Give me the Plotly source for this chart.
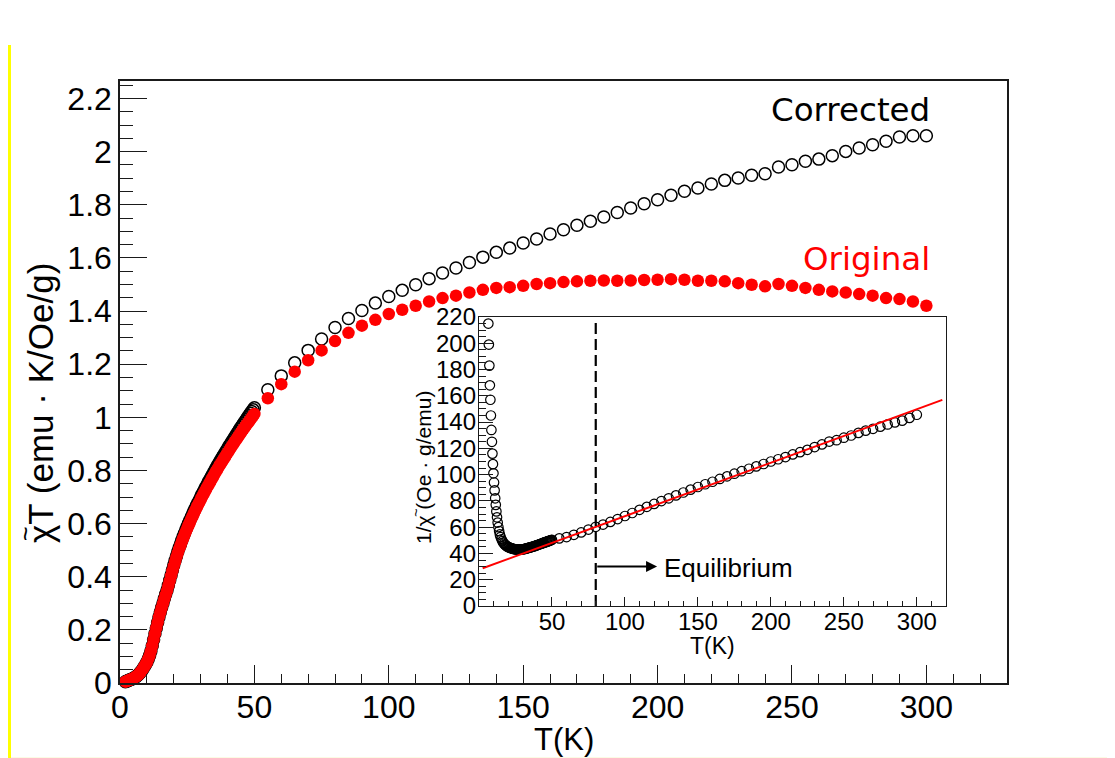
import plotly.graph_objects as go

# ---------------- main panel data ----------------
T_low = [2.0, 2.5, 3.0, 3.5, 4.0, 4.5, 5.0, 5.5, 6.0, 6.5, 7.0, 7.5, 8.0, 8.5, 9.0, 9.5,
         10.0, 10.5, 11.0, 11.5, 12.0, 12.5, 13.0, 13.5, 14.0, 14.5,
         15.0, 15.5, 16.0, 16.5, 17.0, 17.5, 18.0, 18.5, 19.0, 19.5, 20.0, 20.5, 21.0, 21.5,
         22.0, 22.5, 23.0, 23.5, 24.0, 24.5, 25.0, 25.5, 26.0, 26.5, 27.0, 27.5, 28.0, 28.5,
         29.0, 29.5, 30.0, 30.5, 31.0, 31.5, 32.0, 32.5, 33.0, 33.5, 34.0, 34.5, 35.0, 35.5,
         36.0, 36.5, 37.0, 37.5, 38.0, 38.5, 39.0, 39.5, 40.0, 40.5, 41.0, 41.5, 42.0, 42.5,
         43.0, 43.5, 44.0, 44.5, 45.0, 45.5, 46.0, 46.5, 47.0, 47.5, 48.0, 48.5, 49.0, 49.5, 50.0]

chiT_orig_low = [0.005, 0.007, 0.009, 0.011, 0.013, 0.015, 0.018, 0.021, 0.024, 0.028, 0.033, 0.039,
                 0.045, 0.053, 0.061, 0.069, 0.078, 0.090, 0.103, 0.120, 0.140, 0.163, 0.185, 0.207,
                 0.228, 0.248,
                 0.266, 0.283, 0.300, 0.316, 0.332, 0.348, 0.366, 0.384, 0.403, 0.422, 0.440, 0.457,
                 0.474, 0.489, 0.504, 0.518, 0.532, 0.545, 0.558, 0.570, 0.582, 0.594, 0.605, 0.617,
                 0.628, 0.639, 0.650, 0.660, 0.670, 0.680, 0.690, 0.700, 0.710, 0.719, 0.729, 0.738,
                 0.747, 0.756, 0.765, 0.774, 0.783, 0.792, 0.801, 0.809, 0.818, 0.826, 0.834, 0.842,
                 0.850, 0.858, 0.866, 0.874, 0.882, 0.890, 0.898, 0.905, 0.913, 0.920, 0.928, 0.935,
                 0.943, 0.950, 0.957, 0.964, 0.971, 0.978, 0.985, 0.992, 0.999, 1.006, 1.013]

chiT_corr_low = [0.005, 0.007, 0.009, 0.011, 0.013, 0.015, 0.018, 0.021, 0.024, 0.028, 0.033, 0.039,
                 0.045, 0.053, 0.061, 0.069, 0.078, 0.090, 0.103, 0.120, 0.140, 0.163, 0.185, 0.207,
                 0.228, 0.248,
                 0.267, 0.284, 0.301, 0.318, 0.334, 0.350, 0.368, 0.387, 0.406, 0.425, 0.444, 0.461,
                 0.478, 0.494, 0.509, 0.523, 0.537, 0.551, 0.564, 0.577, 0.589, 0.601, 0.613, 0.625,
                 0.636, 0.647, 0.658, 0.669, 0.679, 0.689, 0.700, 0.710, 0.720, 0.730, 0.740, 0.749,
                 0.759, 0.768, 0.777, 0.786, 0.796, 0.805, 0.814, 0.823, 0.832, 0.840, 0.849, 0.857,
                 0.866, 0.874, 0.882, 0.891, 0.899, 0.907, 0.915, 0.923, 0.931, 0.939, 0.947, 0.955,
                 0.963, 0.970, 0.978, 0.985, 0.993, 1.000, 1.008, 1.015, 1.022, 1.029, 1.036]

T_high = [55, 60, 65, 70, 75, 80, 85, 90, 95, 100, 105, 110, 115, 120, 125, 130, 135, 140, 145, 150,
          155, 160, 165, 170, 175, 180, 185, 190, 195, 200, 205, 210, 215, 220, 225, 230, 235, 240,
          245, 250, 255, 260, 265, 270, 275, 280, 285, 290, 295, 300]

chiT_corr_high = [1.104, 1.156, 1.205, 1.252, 1.295, 1.338, 1.372, 1.402, 1.430, 1.455, 1.478, 1.499,
                  1.522, 1.543, 1.562, 1.583, 1.603, 1.621, 1.637, 1.656, 1.671, 1.690, 1.706, 1.723,
                  1.738, 1.754, 1.771, 1.788, 1.804, 1.819, 1.836, 1.851, 1.863, 1.878, 1.892, 1.901,
                  1.911, 1.917, 1.942, 1.951, 1.964, 1.972, 1.985, 2.001, 2.014, 2.026, 2.039, 2.055,
                  2.060, 2.060]

chiT_orig_high = [1.072, 1.125, 1.172, 1.215, 1.252, 1.287, 1.318, 1.345, 1.367, 1.389, 1.405, 1.420,
                  1.436, 1.449, 1.458, 1.470, 1.480, 1.487, 1.490, 1.495, 1.502, 1.505, 1.509, 1.512,
                  1.514, 1.515, 1.514, 1.515, 1.517, 1.518, 1.520, 1.518, 1.514, 1.514, 1.512, 1.505,
                  1.499, 1.493, 1.502, 1.495, 1.487, 1.480, 1.474, 1.470, 1.464, 1.458, 1.449, 1.445,
                  1.436, 1.420]

# ---------------- inset data ----------------
inv_T = [6.4, 6.75, 7.1, 7.45, 7.8, 8.15, 8.5, 8.85, 9.2, 9.55, 9.9, 10.3, 10.7, 11.1, 11.5, 11.9,
         12.35, 12.8, 13.3, 13.8, 14.3, 14.8, 15.4, 16.0, 16.6, 17.2, 17.8, 18.4, 19.0, 19.6, 20.2,
         20.8, 21.4, 22.0, 22.5, 23.0, 23.5, 24.0, 24.5, 25.0, 25.5, 26.0, 26.5, 27.0, 27.5, 28.0,
         28.5, 29.0, 29.5, 30.0, 30.5, 31.0, 31.5, 32.0, 32.5, 33.0, 33.5, 34.0, 34.5, 35.0, 35.5,
         36.0, 36.5, 37.0, 37.5, 38.0, 38.5, 39.0, 39.5, 40.0, 40.5, 41.0, 41.5, 42.0, 42.5, 43.0,
         43.5, 44.0, 44.5, 45.0, 45.5, 46.0, 46.5, 47.0, 47.5, 48.0, 48.5, 49.0, 49.5, 50.0,
         55, 60, 65, 70, 75, 80, 85, 90, 95, 100, 105, 110, 115, 120, 125, 130, 135, 140, 145, 150,
         155, 160, 165, 170, 175, 180, 185, 190, 195, 200, 205, 210, 215, 220, 225, 230, 235, 240,
         245, 250, 255, 260, 265, 270, 275, 280, 285, 290, 295, 300]

inv_chi = [215, 199, 183, 168, 157, 145, 134, 125, 116, 108, 101, 94, 88, 82, 77, 72,
           67.5, 63.5, 60, 57, 54.5, 52.5, 50.8, 49.4, 48.3, 47.4, 46.7, 46.1, 45.6, 45.2, 44.8,
           44.5, 44.2, 44.0, 43.8, 43.6, 43.5, 43.4, 43.3, 43.2, 43.1, 43.1, 43.0, 43.0, 43.0, 43.0,
           43.0, 43.1, 43.1, 43.2, 43.3, 43.4, 43.5, 43.7, 43.8, 44.0, 44.1, 44.3, 44.4, 44.6, 44.8,
           44.9, 45.1, 45.3, 45.5, 45.6, 45.8, 46.0, 46.2, 46.4, 46.6, 46.8, 47.0, 47.2, 47.4, 47.6,
           47.8, 48.0, 48.2, 48.4, 48.6, 48.8, 49.0, 49.2, 49.4, 49.6, 49.8, 50.0, 50.2, 50.4,
           51.5, 52.5, 54.2, 56.0, 58.2, 60.3, 62.0, 64.0, 66.2, 68.5, 70.8, 73.2, 75.5, 77.7, 79.9,
           82.0, 84.2, 86.4, 88.6, 90.6, 92.7, 94.6, 96.7, 98.7, 100.7, 102.6, 104.5, 106.3, 108.1,
           110.0, 111.7, 113.4, 115.4, 117.1, 118.9, 121.0, 123.0, 125.2, 126.2, 128.1, 129.8, 131.8,
           133.5, 134.9, 136.5, 138.2, 139.8, 141.1, 143.2, 145.6]

fit_T = [2.5, 317.5]
fit_inv = [28.7, 156.9]
T_equilibrium = 80
arrow_T = [80, 122]
arrow_y = 30

main_xticks = [0, 50, 100, 150, 200, 250, 300]
inset_xticks = [50, 100, 150, 200, 250, 300]

assert len(T_low) == len(chiT_orig_low) == len(chiT_corr_low)
assert len(T_high) == len(chiT_corr_high) == len(chiT_orig_high)
assert len(inv_T) == len(inv_chi)

T_main = T_low + T_high
corr_all = chiT_corr_low + chiT_corr_high
orig_all = chiT_orig_low + chiT_orig_high

AX = "#1a1a1a"
HELV = "Liberation Sans, Arial, Helvetica, sans-serif"
DEJA = "DejaVu Sans, sans-serif"

# window geometry (the page body adds an 8 px offset to the figure)
WIN_W, WIN_H, OFF = 1115, 758, 8
L, R, TOP, BOT = 120, 1007, 81, 683   # plot area in window pixels


def px_x(p):
    return (p - L) / float(R - L)


def px_y(p):
    return (BOT - p) / float(BOT - TOP)


fig = go.Figure()
fig.add_trace(go.Scatter(x=T_main, y=corr_all, mode="markers", cliponaxis=False,
                         marker=dict(symbol="circle-open", size=12, color="black",
                                     line=dict(width=1.5, color="black")),
                         name="Corrected"))
fig.add_trace(go.Scatter(x=T_main, y=orig_all, mode="markers", cliponaxis=False,
                         marker=dict(symbol="circle", size=12.5, color="#ff0000",
                                     line=dict(width=0)),
                         name="Original"))
# inset
fig.add_trace(go.Scatter(x=inv_T, y=inv_chi, xaxis="x2", yaxis="y2", mode="markers",
                         marker=dict(symbol="circle-open", size=9.5, color="black",
                                     line=dict(width=1.2, color="black")),
                         name="1/chi"))
fig.add_trace(go.Scatter(x=fit_T, y=fit_inv, xaxis="x2", yaxis="y2", mode="lines",
                         line=dict(color="#ff0000", width=2), name="fit"))
fig.add_trace(go.Scatter(x=[T_equilibrium, T_equilibrium], y=[0, 218], xaxis="x2", yaxis="y2",
                         mode="lines", line=dict(color="black", width=2.2, dash="11px,5px"),
                         name="eq"))

fig.update_layout(
    width=WIN_W - OFF, height=WIN_H - OFF,
    margin=dict(l=L - OFF, r=WIN_W - R, t=TOP - OFF, b=WIN_H - BOT, autoexpand=False),
    paper_bgcolor="white", plot_bgcolor="white",
    font=dict(family=HELV, color="black"),
    showlegend=False,
    xaxis=dict(range=[0, 330], tickvals=main_xticks, ticks="inside", ticklen=18, tickwidth=1.3,
               tickcolor=AX, showline=True, linecolor=AX, linewidth=1.5, mirror=True,
               showgrid=False, zeroline=False, tickfont=dict(size=32, family=HELV),
               ticklabelstandoff=-5, automargin=False,
               minor=dict(dtick=10, tick0=0, ticks="inside", ticklen=9, tickwidth=1.3,
                          tickcolor=AX, showgrid=False)),
    yaxis=dict(range=[0, 2.266], dtick=0.2, tick0=0, ticks="inside", ticklen=27, tickwidth=1.3,
               tickcolor=AX, showline=True, linecolor=AX, linewidth=1.5, mirror=True,
               showgrid=False, zeroline=False, tickfont=dict(size=32, family=HELV),
               ticklabelstandoff=0, automargin=False,
               minor=dict(dtick=0.05, tick0=0, ticks="inside", ticklen=13, tickwidth=1.3,
                          tickcolor=AX, showgrid=False)),
    xaxis2=dict(domain=[px_x(479), px_x(946)], anchor="y2", range=[0, 320], tickvals=inset_xticks,
                ticks="inside", ticklen=9, tickwidth=1.1, tickcolor=AX, showline=True,
                linecolor=AX, linewidth=1.3, mirror=True, showgrid=False, zeroline=False,
                tickfont=dict(size=24, family=HELV), ticklabelstandoff=-6, automargin=False,
                minor=dict(dtick=10, tick0=0, ticks="inside", ticklen=4.5, tickwidth=1.1,
                           tickcolor=AX, showgrid=False)),
    yaxis2=dict(domain=[px_y(606), px_y(317)], anchor="x2", range=[0, 220], dtick=20, tick0=0,
                ticks="inside", ticklen=14, tickwidth=1.1, tickcolor=AX, showline=True,
                linecolor=AX, linewidth=1.3, mirror=True, showgrid=False, zeroline=False,
                tickfont=dict(size=24, family=HELV), ticklabelstandoff=-3, automargin=False,
                minor=dict(dtick=5, tick0=0, ticks="inside", ticklen=7, tickwidth=1.1,
                           tickcolor=AX, showgrid=False)),
)

# ---- axis titles (annotations so the chi-tilde can be built exactly) ----
fig.add_annotation(text="T(K)", xref="paper", yref="paper", x=0.5, y=px_y(739),
                   xanchor="center", yanchor="middle", showarrow=False,
                   font=dict(size=31, family=HELV))
YT_X, YT_Y, YT_FS = 40, 403, 35
fig.add_annotation(text="χT (emu · K/Oe/g)", xref="paper", yref="paper",
                   x=px_x(YT_X), y=px_y(YT_Y), textangle=-90,
                   xanchor="center", yanchor="middle", showarrow=False,
                   font=dict(size=YT_FS, family=HELV))
fig.add_annotation(text="~", xref="paper", yref="paper",
                   x=px_x(YT_X - 15), y=px_y(YT_Y + 131), textangle=-90,
                   xanchor="center", yanchor="middle", showarrow=False,
                   font=dict(size=25, family=HELV))
# inset titles
fig.add_annotation(text="T(K)", xref="paper", yref="paper", x=px_x(712), y=px_y(646),
                   xanchor="center", yanchor="middle", showarrow=False,
                   font=dict(size=23, family=HELV))
IT_X, IT_Y, IT_FS = 424, 468, 21
fig.add_annotation(text="1/χ (Oe · g/emu)", xref="paper", yref="paper",
                   x=px_x(IT_X), y=px_y(IT_Y), textangle=-90,
                   xanchor="center", yanchor="middle", showarrow=False,
                   font=dict(size=IT_FS, family=HELV))
fig.add_annotation(text="~", xref="paper", yref="paper",
                   x=px_x(IT_X - 9), y=px_y(IT_Y + 45), textangle=-90,
                   xanchor="center", yanchor="middle", showarrow=False,
                   font=dict(size=15, family=HELV))

fig.add_annotation(text="Corrected", xref="paper", yref="paper", x=px_x(932), y=px_y(110),
                   xanchor="right", yanchor="middle", showarrow=False,
                   font=dict(size=32.5, family=DEJA, color="black"))
fig.add_annotation(text="Original", xref="paper", yref="paper", x=px_x(932), y=px_y(259),
                   xanchor="right", yanchor="middle", showarrow=False,
                   font=dict(size=32.5, family=DEJA, color="#ff0000"))
fig.add_annotation(text="", xref="x2", yref="y2", x=arrow_T[1], y=arrow_y,
                   axref="x2", ayref="y2", ax=arrow_T[0], ay=arrow_y,
                   showarrow=True, arrowhead=2, arrowsize=1.1, arrowwidth=2, arrowcolor="black",
                   standoff=0, startstandoff=0)
fig.add_annotation(text="Equilibrium", xref="x2", yref="y2", x=125.5, y=arrow_y - 1,
                   xanchor="left", yanchor="middle", showarrow=False,
                   font=dict(size=26, family=HELV, color="black"))

# yellow strip at the left edge and faint tint along the bottom of the picture
fig.add_shape(type="line", xref="paper", yref="paper", x0=px_x(9.5), x1=px_x(9.5),
              y0=px_y(758), y1=px_y(45), line=dict(color="#ffff00", width=3), layer="above")
fig.add_shape(type="line", xref="paper", yref="paper", x0=px_x(11), x1=px_x(1115),
              y0=px_y(757.5), y1=px_y(757.5), line=dict(color="#fbfbe4", width=1), layer="below")

fig.write_html("out.html")
